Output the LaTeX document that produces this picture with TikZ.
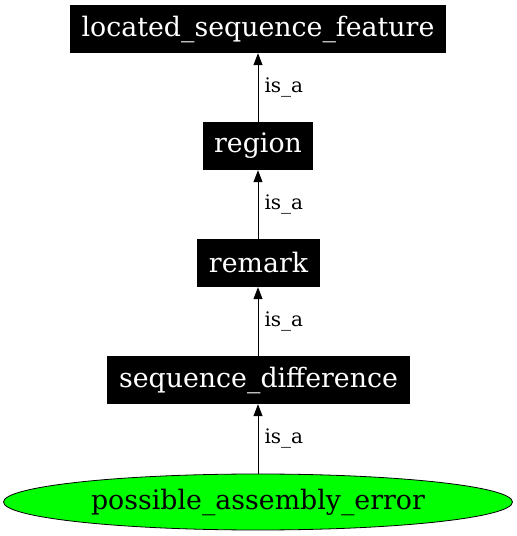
\documentclass[tikz,border=0pt]{standalone}
\usepackage{fontspec}
\setmainfont{DejaVu Serif}
\usetikzlibrary{arrows.meta,shapes.geometric}
\begin{document}
\begin{tikzpicture}[x=1pt,y=1pt,
  box/.style={fill=black,text=white,inner sep=0pt,minimum height=48pt,font=\fontsize{26.8}{30}\selectfont},
  edge/.style={-{Triangle[length=12pt,width=9pt]},line width=1pt},
  lbl/.style={right=6pt,font=\fontsize{20}{22}\selectfont,inner sep=0pt}]
\useasboundingbox (0,0) rectangle (517,536);
\node[box,minimum width=376pt] (lsf) at (258,507) {located\_sequence\_feature};
\node[box,minimum width=110pt] (region) at (258,390) {region};
\node[box,minimum width=123pt] (remark) at (258.5,273) {remark};
\node[box,minimum width=303pt] (sd) at (258.5,156) {sequence\_difference};
\node[ellipse,draw=black,fill=green,line width=0.8pt,minimum width=509pt,minimum height=56pt,inner sep=0pt,font=\fontsize{26.8}{30}\selectfont] (pae) at (258,34) {possible\_assembly\_error};
\draw[edge] (region.north -| lsf.south) -- (lsf.south) node[midway,lbl] {is\_a};
\draw[edge] (remark.north -| lsf.south) -- (region.south -| lsf.south) node[midway,lbl] {is\_a};
\draw[edge] (sd.north -| lsf.south) -- (remark.south -| lsf.south) node[midway,lbl] {is\_a};
\draw[edge] (pae.north) -- (sd.south -| pae.north) node[midway,lbl] {is\_a};
\end{tikzpicture}
\end{document}
